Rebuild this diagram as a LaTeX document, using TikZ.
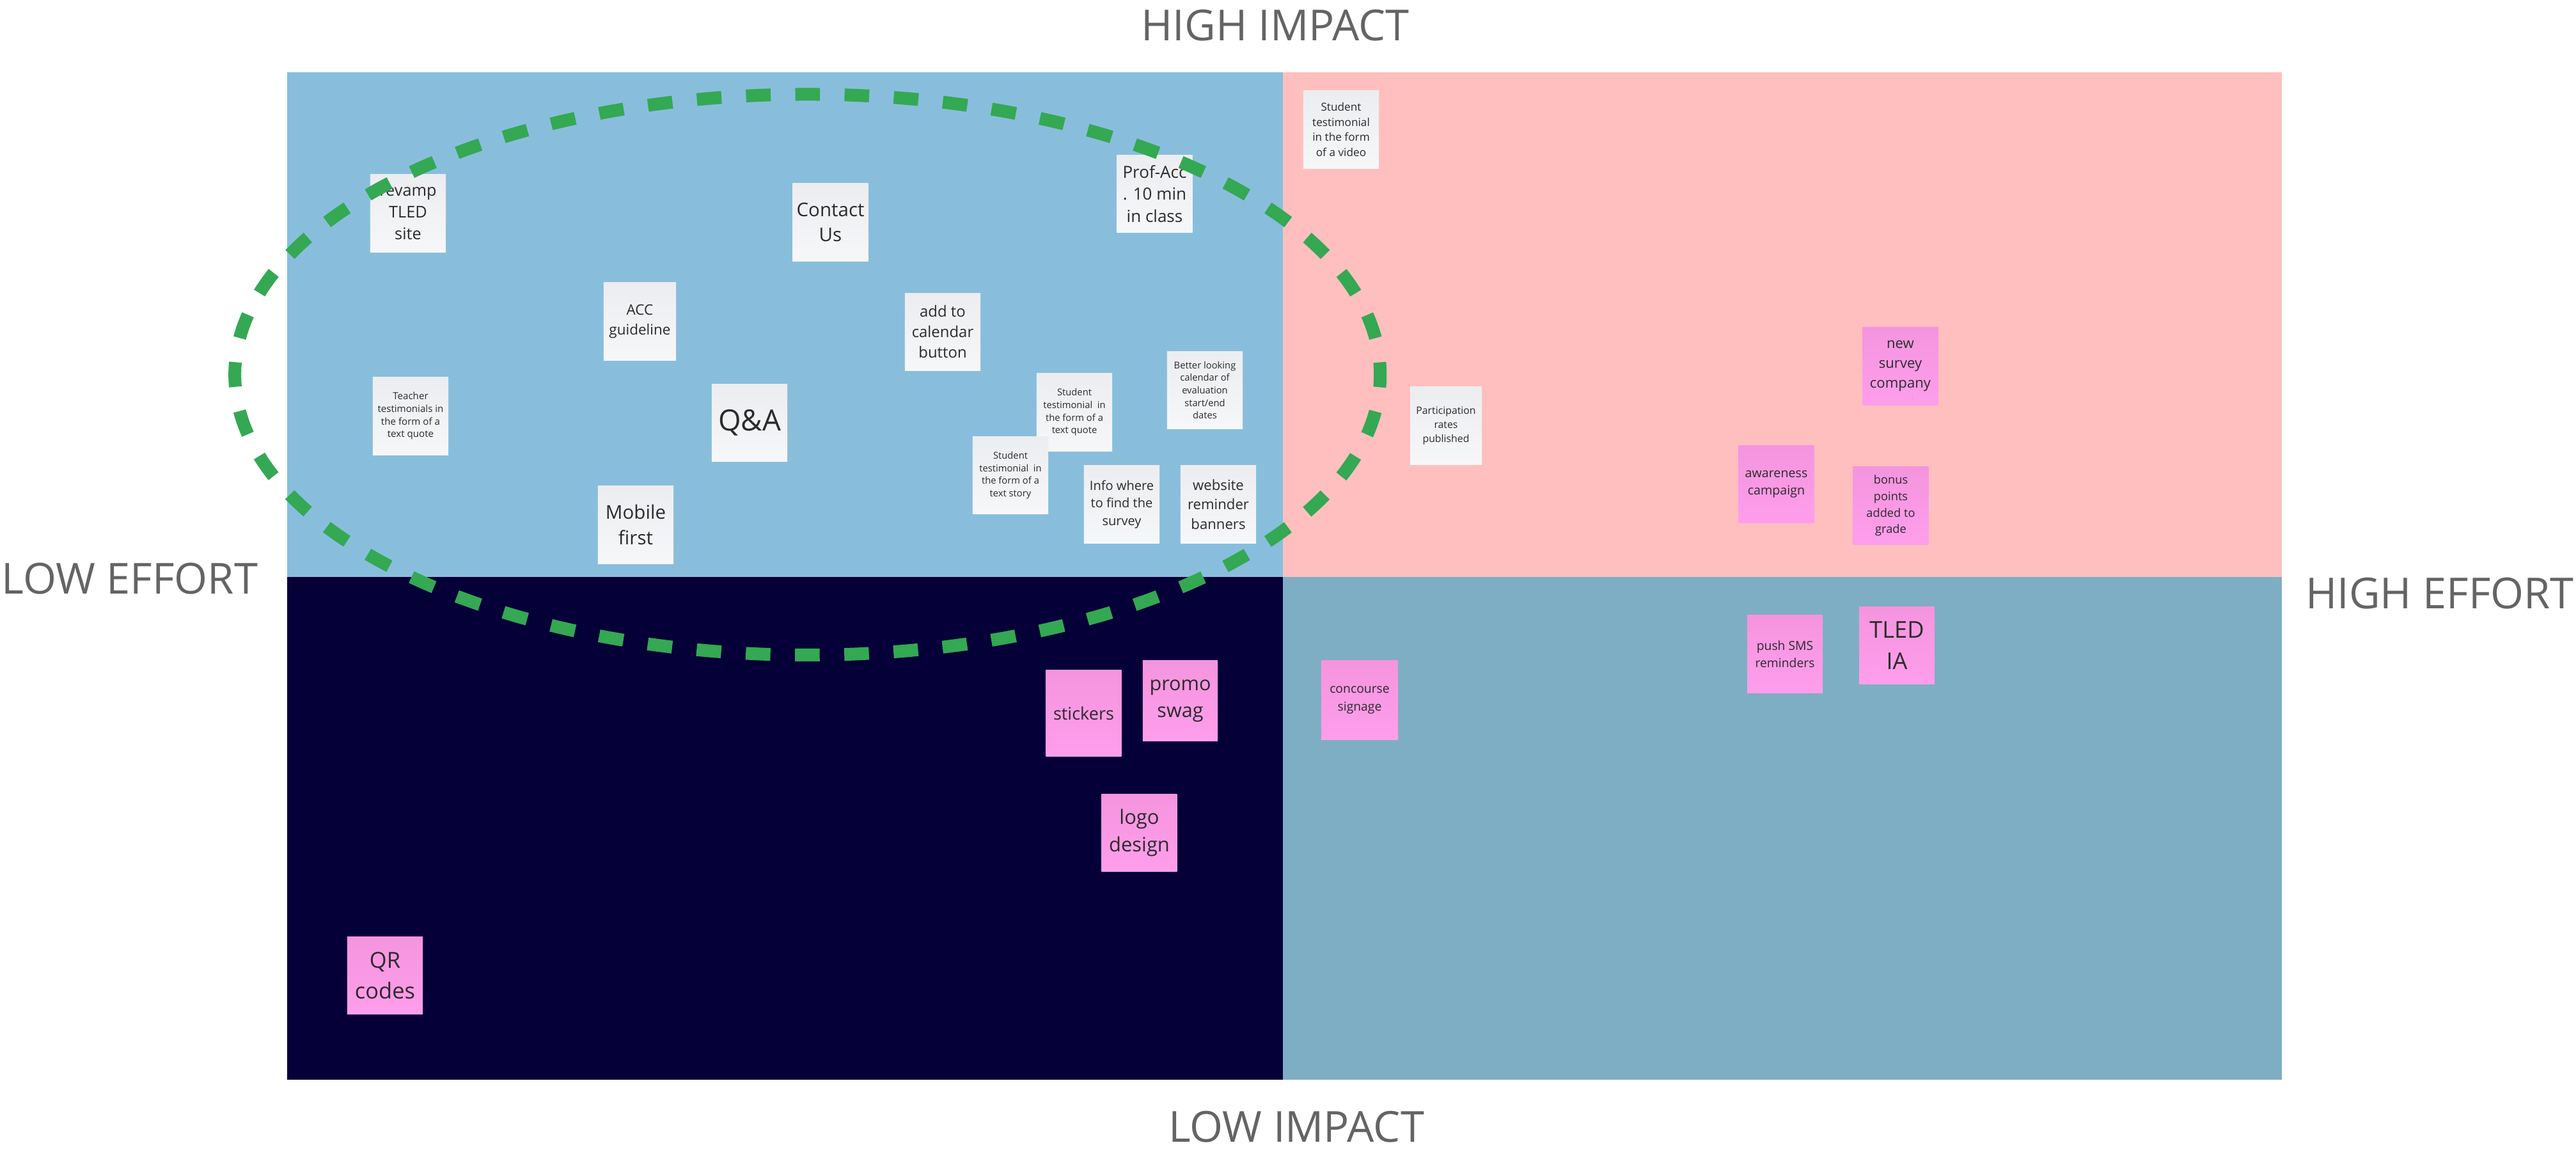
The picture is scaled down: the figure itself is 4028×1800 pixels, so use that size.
\documentclass[tikz,border=0pt]{standalone}
\usepackage{fontspec}
\setmainfont{Open Sans}
\usetikzlibrary{shadings}
\definecolor{qblue}{HTML}{88BEDC}
\definecolor{qpink}{HTML}{FFBFBF}
\definecolor{qnavy}{HTML}{050038}
\definecolor{qteal}{HTML}{7EAEC3}
\definecolor{ringgreen}{HTML}{34A853}
\definecolor{labelgray}{HTML}{646464}
\definecolor{notetext}{HTML}{2B2B2B}
\definecolor{wtop}{HTML}{ECEDF0}
\definecolor{wbot}{HTML}{F6F7F9}
\definecolor{ptop}{HTML}{F594DE}
\definecolor{pbot}{HTML}{FE9EEC}
\newcommand{\fz}[2]{\fontsize{#1}{#2}\selectfont}
\begin{document}
\begin{tikzpicture}[x=0.01cm,y=-0.01cm,
  note/.style={minimum width=1.18cm, minimum height=1.21cm, inner sep=0pt,
    align=center, text=notetext},
  wnote/.style={note, top color=wtop, bottom color=wbot},
  pnote/.style={note, top color=ptop, bottom color=pbot},
  axislabel/.style={text=labelgray, font=\fz{19}{23}, inner sep=0pt},
  ring/.style={draw=ringgreen, line width=0.2cm, dash pattern=on 0.385cm off 0.385cm, dash phase=0.1925cm}]
\useasboundingbox (0,0) rectangle (4028,1800);
% quadrants
\fill[qblue] (449,113) rectangle (2006,902);
\fill[qpink] (2006,113) rectangle (3568,902);
\fill[qnavy] (449,902) rectangle (2006,1688);
\fill[qteal] (2006,902) rectangle (3568,1688);
% axis labels
\node[axislabel] (hi) at (1994,40) {HIGH IMPACT};
\node[axislabel] (li) at (2027,1762) {LOW IMPACT};
\node[axislabel] (le) at (203,905) {LOW EFFORT};
\node[axislabel] (he) at (3815,928) {HIGH EFFORT};
% white notes
\node[wnote, font=\fz{7.2}{9.6}] (n1) at (638,333.5) {revamp\\TLED\\site};
\node[wnote, font=\fz{8.4}{10.9}] (n2) at (1298.5,347.5) {Contact\\Us};
\node[wnote, font=\fz{6.4}{8.9}, minimum width=1.13cm] (n3) at (1000.5,502.5) {ACC\\guideline};
\node[wnote, font=\fz{6.8}{9.1}] (n4) at (1474,519) {add to\\calendar\\button};
\node[wnote, font=\fz{4.3}{5.6}] (n5) at (642,650.5) {Teacher\\testimonials in\\the form of a\\text quote};
\node[wnote, font=\fz{13}{16}] (n6) at (1172,661) {Q\&A};
\node[wnote, font=\fz{8.4}{11.6}] (n7) at (994,820.5) {Mobile\\first};
\node[wnote, font=\fz{7.4}{9.9}] (n8) at (1805.5,303) {Prof-Acc\\. 10 min\\in class};
\node[wnote, font=\fz{4.9}{6.7}] (n9) at (2097,202.5) {Student\\testimonial\\in the form\\of a video};
\node[wnote, font=\fz{4.2}{5.6}] (n10) at (1884,610) {Better looking\\calendar of\\evaluation\\start/end\\dates};
\node[wnote, font=\fz{4.2}{5.6}] (n11) at (1680,644.5) {Student\\testimonial~ in\\the form of a\\text quote};
\node[wnote, font=\fz{4.2}{5.6}] (n12) at (1580,743) {Student\\testimonial~ in\\the form of a\\text story};
\node[wnote, font=\fz{5.7}{7.8}] (n13) at (1754,788.5) {Info where\\to find the\\survey};
\node[wnote, font=\fz{6.3}{8.7}] (n14) at (1905,788.5) {website\\reminder\\banners};
\node[wnote, font=\fz{4.5}{6.2}, minimum width=1.12cm] (n15) at (2261,665.5) {Participation\\rates\\published};
% pink notes
\node[pnote, font=\fz{6.3}{8.8}] (p1) at (2971.5,572.5) {new\\survey\\company};
\node[pnote, font=\fz{5.6}{7.5}] (p2) at (2777.5,757) {awareness\\campaign};
\node[pnote, font=\fz{5.2}{7.3}] (p3) at (2956.5,790.5) {bonus\\points\\added to\\grade};
\node[pnote, font=\fz{5.5}{7.6}] (p4) at (2791,1022.5) {push SMS\\reminders};
\node[pnote, font=\fz{10.3}{14}] (p5) at (2966,1009) {TLED\\IA};
\node[pnote, font=\fz{7.7}{10}, minimum height=1.34cm] (p6) at (1694.5,1115) {stickers};
\node[pnote, font=\fz{8.7}{11.9}, minimum width=1.17cm, minimum height=1.25cm] (p7) at (1845.5,1095.5) {promo\\swag};
\node[pnote, font=\fz{5.5}{7.8}, minimum width=1.2cm, minimum height=1.23cm] (p8) at (2126,1094.5) {concourse\\signage};
\node[pnote, font=\fz{8.8}{12.4}] (p9) at (1781.5,1302) {logo\\design};
\node[pnote, font=\fz{9.8}{13.5}] (p10) at (602,1525) {QR\\codes};
% dashed ring
\draw[ring] (1262.7,585.7) ellipse [x radius=8.95cm, y radius=4.38cm];
\end{tikzpicture}
\end{document}
